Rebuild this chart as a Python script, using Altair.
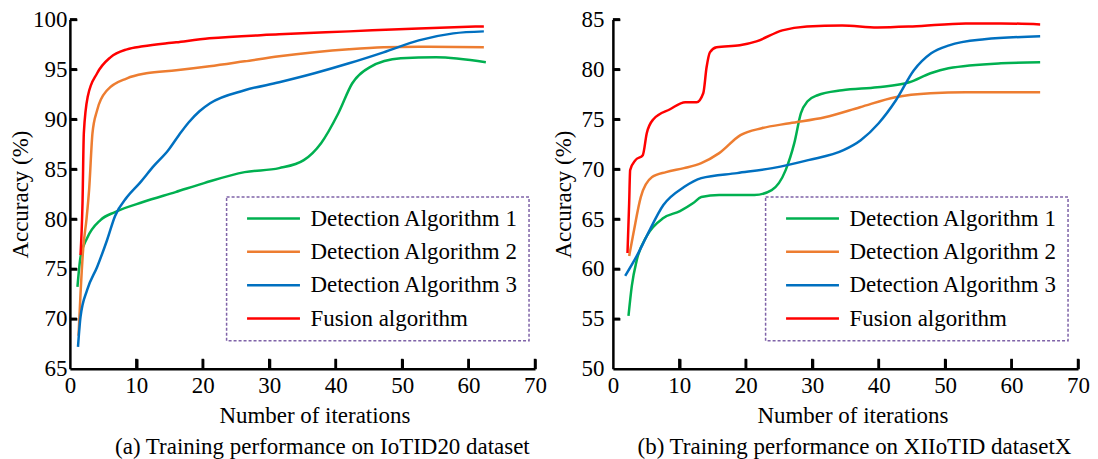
import altair as alt
import pandas as pd

FONT = "Liberation Serif"
series = ["Detection Algorithm 1", "Detection Algorithm 2", "Detection Algorithm 3", "Fusion algorithm"]
colors = ["#00B050", "#ED7D31", "#0070C0", "#FF0000"]

x_ticks = [0, 10, 20, 30, 40, 50, 60, 70]
a_y_ticks = [65, 70, 75, 80, 85, 90, 95, 100]
b_y_ticks = [50, 55, 60, 65, 70, 75, 80, 85]

# (a) IoTID20
a_alg1_x = [1.14, 1.6, 2.6, 4.6, 6.8, 11.0, 15.9, 20.2, 26.3, 31.5, 35.2, 37.8, 40.4, 42.5, 45.1, 49.8, 55.1, 62.6]
a_alg1_y = [73.2, 76.2, 78.1, 79.9, 80.7, 81.7, 82.7, 83.6, 84.7, 85.1, 85.9, 87.6, 90.6, 93.6, 95.2, 96.1, 96.2, 95.7]
a_alg2_x = [1.3, 1.6, 2.0, 2.5, 2.9, 3.4, 4.1, 5.6, 8.6, 11.5, 16.0, 21.0, 26.3, 31.5, 36.8, 42.0, 47.2, 52.5, 62.3]
a_alg2_y = [68.3, 72.5, 77.0, 80.0, 83.0, 88.6, 90.9, 92.9, 94.1, 94.6, 94.9, 95.3, 95.8, 96.3, 96.7, 97.0, 97.2, 97.25, 97.2]
a_alg3_x = [1.22, 1.6, 2.6, 4.1, 5.6, 6.8, 8.6, 10.5, 12.6, 14.8, 16.4, 17.9, 19.5, 21.1, 26.3, 31.5, 36.8, 42.0, 47.2, 52.5, 57.7, 62.3]
a_alg3_y = [67.2, 70.2, 72.9, 75.2, 77.9, 80.3, 82.2, 83.6, 85.3, 86.9, 88.4, 89.7, 90.8, 91.6, 92.9, 93.7, 94.6, 95.6, 96.7, 97.9, 98.6, 98.8]
a_fus_x = [1.6, 1.9, 2.1, 2.7, 4.1, 6.1, 8.6, 11.0, 16.0, 21.0, 31.5, 42.0, 52.5, 62.3]
a_fus_y = [76.4, 81.6, 88.6, 92.3, 94.6, 96.2, 97.0, 97.3, 97.7, 98.1, 98.5, 98.8, 99.1, 99.3]

# (b) XIIoTID
b_alg1_x = [2.35, 2.85, 3.6, 5.1, 7.6, 10.1, 12.1, 13.3, 16.0, 21.3, 23.9, 26.0, 27.3, 28.3, 29.3, 30.8, 34.5, 39.8, 44.6, 47.8, 50.5, 58.4, 64.3]
b_alg1_y = [55.3, 58.3, 60.9, 63.3, 65.1, 65.8, 66.6, 67.2, 67.4, 67.4, 67.9, 69.9, 72.6, 75.6, 76.8, 77.4, 77.9, 78.2, 78.7, 79.6, 80.1, 80.6, 80.7]
b_alg2_x = [2.45, 3.1, 4.2, 5.9, 8.0, 10.7, 13.3, 16.0, 19.2, 22.4, 26.6, 31.9, 37.2, 42.5, 47.8, 53.1, 58.4, 64.3]
b_alg2_y = [61.3, 63.6, 67.2, 69.2, 69.7, 70.1, 70.6, 71.6, 73.4, 74.1, 74.6, 75.2, 76.2, 77.2, 77.6, 77.7, 77.7, 77.7]
b_alg3_x = [1.85, 3.6, 5.1, 7.6, 10.7, 13.3, 18.7, 24.0, 29.4, 34.7, 37.3, 40.0, 42.6, 45.3, 47.9, 50.6, 55.9, 64.3]
b_alg3_y = [59.3, 61.3, 63.3, 66.4, 68.2, 69.1, 69.6, 70.1, 70.9, 71.9, 72.9, 74.6, 76.9, 79.9, 81.6, 82.4, 83.0, 83.3]
b_fus_x = [2.2, 2.45, 2.6, 3.4, 4.5, 5.1, 6.1, 8.6, 10.9, 12.6, 13.6, 14.1, 14.6, 15.6, 19.1, 21.6, 25.5, 29.2, 34.5, 39.8, 45.1, 53.1, 58.4, 64.3]
b_fus_y = [61.6, 66.6, 69.9, 70.9, 71.4, 73.6, 75.0, 76.0, 76.7, 76.7, 77.6, 80.2, 81.7, 82.2, 82.4, 82.8, 83.9, 84.3, 84.4, 84.2, 84.3, 84.6, 84.6, 84.5]


def long_df(pairs):
    rows = []
    for name, xs, ys in pairs:
        for xv, yv in zip(xs, ys):
            rows.append({"series": name, "iter": xv, "acc": yv})
    return pd.DataFrame(rows)


df_a = long_df([(series[0], a_alg1_x, a_alg1_y), (series[1], a_alg2_x, a_alg2_y),
                (series[2], a_alg3_x, a_alg3_y), (series[3], a_fus_x, a_fus_y)])
df_b = long_df([(series[0], b_alg1_x, b_alg1_y), (series[1], b_alg2_x, b_alg2_y),
                (series[2], b_alg3_x, b_alg3_y), (series[3], b_fus_x, b_fus_y)])

H = 350


def panel(df, y_ticks, width, ylabpad, legx, xtitle_x, caption, cap_dx):
    xscale = alt.Scale(domain=[0, 70], nice=False, zero=False)
    yscale = alt.Scale(domain=[y_ticks[0], y_ticks[-1]], nice=False, zero=False)
    common = dict(domainColor="black", domainWidth=2.5, ticks=False, tickSize=0, grid=False,
                  labelFont=FONT, labelFontSize=23, labelColor="black",
                  titleFont=FONT, titleFontSize=23, titleFontWeight="normal", titleColor="black",
                  labelOverlap=False, labelFlush=False)
    xaxis = alt.Axis(values=x_ticks, title="Number of iterations", labelPadding=24,
                     labelBaseline="alphabetic", titleX=xtitle_x, titleY=54,
                     titleBaseline="alphabetic", **common)
    yaxis = alt.Axis(values=y_ticks, title="Accuracy (%)", labelPadding=ylabpad,
                     titleX=-42, titleBaseline="alphabetic", **common)
    # inward tick marks: secondary axes moved onto the plot edges
    ytick_axis = alt.Axis(orient="right", offset=-width, values=y_ticks[1:], labels=False,
                          domain=False, grid=False, ticks=True, tickSize=7, tickWidth=2.5,
                          tickColor="black", title=None, zindex=2)
    xtick_axis = alt.Axis(orient="top", offset=-H, values=x_ticks[1:], labels=False,
                          domain=False, grid=False, ticks=True, tickSize=10, tickWidth=2.5,
                          tickColor="black", title=None, zindex=2)
    lines = alt.Chart(df).mark_line(strokeWidth=2.5, interpolate="monotone").encode(
        x=alt.X("iter:Q", scale=xscale, axis=xaxis),
        y=alt.Y("acc:Q", scale=yscale, axis=yaxis),
        color=alt.Color("series:N", scale=alt.Scale(domain=series, range=colors),
                        legend=alt.Legend(orient="none", legendX=legx, legendY=178, title=None,
                                          direction="vertical",
                                          symbolType="M-0.1,0H5.2", symbolSize=400,
                                          symbolStrokeWidth=2.5, labelOffset=51,
                                          labelFont=FONT, labelFontSize=23, labelColor="black",
                                          labelLimit=400)),
    )
    ydf = pd.DataFrame({"v": y_ticks[1:]})
    xdf = pd.DataFrame({"t": x_ticks[1:]})
    yt = alt.Chart(ydf).mark_rule(color="black", strokeWidth=2.5).encode(
        y=alt.Y("v:Q", scale=yscale, axis=ytick_axis), x=alt.value(0), x2=alt.value(7))
    xt = alt.Chart(xdf).mark_rule(color="black", strokeWidth=2.5).encode(
        x=alt.X("t:Q", scale=xscale, axis=xtick_axis), y=alt.value(H), y2=alt.value(H - 10))
    return alt.layer(lines, yt, xt).resolve_axis(x="independent", y="independent").properties(
        width=width, height=H,
        title=alt.TitleParams(caption, orient="bottom", anchor="middle", frame="group",
                              font=FONT, fontSize=23, fontWeight="normal", color="black",
                              dx=cap_dx, offset=26, baseline="alphabetic"))


left = panel(df_a, a_y_ticks, 466, 3, 157, 245, "(a) Training performance on IoTID20 dataset", 20)
right = panel(df_b, b_y_ticks, 466, 9, 153, 240, "(b) Training performance on XIIoTID datasetX", 9)

chart = alt.hconcat(left, right, spacing=6).resolve_scale(color="independent").properties(
    padding={"left": 2, "top": 0, "right": 0, "bottom": 0}, background="white"
).configure_view(strokeWidth=0).configure_legend(
    strokeColor="#7F63A8", strokeDash=[3, 2], strokeWidth=1.5, fillColor="white",
    padding=10, rowPadding=9.4
)

chart.save("out.html", embed_options={"renderer": "svg", "actions": False})
